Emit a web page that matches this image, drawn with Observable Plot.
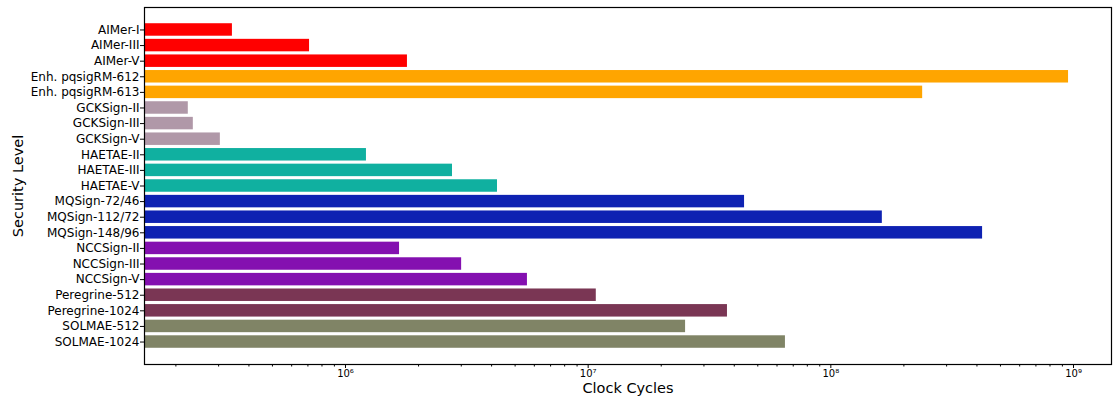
<!DOCTYPE html>
<html>
<head>
<meta charset="utf-8">
<script src="https://cdn.jsdelivr.net/npm/d3@7"></script>
<script src="https://cdn.jsdelivr.net/npm/@observablehq/plot@0.6"></script>
<style>
  html, body { margin: 0; padding: 0; background: #fff; }
</style>
</head>
<body>
<div id="chart"></div>
<script>
// Signature schemes, top to bottom
const schemes = [
  "AIMer-I", "AIMer-III", "AIMer-V",
  "Enh. pqsigRM-612", "Enh. pqsigRM-613",
  "GCKSign-II", "GCKSign-III", "GCKSign-V",
  "HAETAE-II", "HAETAE-III", "HAETAE-V",
  "MQSign-72/46", "MQSign-112/72", "MQSign-148/96",
  "NCCSign-II", "NCCSign-III", "NCCSign-V",
  "Peregrine-512", "Peregrine-1024",
  "SOLMAE-512", "SOLMAE-1024"
];

// Clock cycles per scheme
const cycles = [
  342000, 711000, 1800000,
  954000000, 239000000,
  225000, 236000, 305000,
  1220000, 2760000, 4230000,
  44100000, 163000000, 422000000,
  1670000, 3010000, 5620000,
  10800000, 37500000,
  25200000, 65000000
];

// Family of each scheme and the family colours
const family = [
  "AIMer", "AIMer", "AIMer",
  "pqsigRM", "pqsigRM",
  "GCKSign", "GCKSign", "GCKSign",
  "HAETAE", "HAETAE", "HAETAE",
  "MQSign", "MQSign", "MQSign",
  "NCCSign", "NCCSign", "NCCSign",
  "Peregrine", "Peregrine",
  "SOLMAE", "SOLMAE"
];
const familyNames  = ["AIMer", "pqsigRM", "GCKSign", "HAETAE", "MQSign", "NCCSign", "Peregrine", "SOLMAE"];
const familyColors = ["#ff0000", "#ffa500", "#b098a8", "#10b0a0", "#0e22b2", "#8410b0", "#7a3654", "#808466"];

// x axis: log decades and their labels
const xDomain = [148500, 1.434e9];
const majorTicks = [1e6, 1e7, 1e8, 1e9];
const majorLabels = ["10\u2076", "10\u2077", "10\u2078", "10\u2079"];
const minorTicks = [];
for (let e = 5; e <= 8; e++) for (let k = 2; k <= 9; k++) {
  const v = k * Math.pow(10, e);
  if (v >= xDomain[0] && v <= xDomain[1]) minorTicks.push(v);
}

const colorOf = new Map(familyNames.map((f, i) => [f, familyColors[i]]));
const rows = schemes.map((name, i) => ({name, value: cycles[i], color: colorOf.get(family[i])}));

const chart = Plot.plot({
  width: 1116,
  height: 401,
  marginLeft: 144,
  marginRight: 5,
  marginTop: 7,
  marginBottom: 37,
  style: {fontFamily: "'DejaVu Sans', sans-serif", fontSize: "12px", color: "#000", background: "#fff"},
  x: {type: "log", domain: xDomain},
  y: {domain: schemes, paddingInner: 0.2, paddingOuter: 1.04, round: false},
  color: {type: "identity"},
  marks: [
    Plot.barX(rows, {x1: xDomain[0], x2: "value", y: "name", fill: "color"}),
    Plot.frame({stroke: "#000", strokeWidth: 1.2}),
    Plot.axisY({tickSize: 4, tickPadding: 1, label: null, stroke: "#000", fontSize: 12}),
    Plot.axisX(majorTicks, {tickSize: 4, tickPadding: 1, label: null, fontSize: 10, tickFormat: (d) => majorLabels[majorTicks.indexOf(d)]}),
    Plot.axisX(minorTicks, {tickSize: 2.5, label: null, tickFormat: () => ""}),
    Plot.text(["Clock Cycles"], {frameAnchor: "bottom", dy: 28, fontSize: 14.5, text: d => d}),
    Plot.text(["Security Level"], {frameAnchor: "left", textAnchor: "middle", dx: -126, rotate: -90, fontSize: 14.5, text: d => d})
  ]
});

document.getElementById("chart").appendChild(chart);
</script>
</body>
</html>
